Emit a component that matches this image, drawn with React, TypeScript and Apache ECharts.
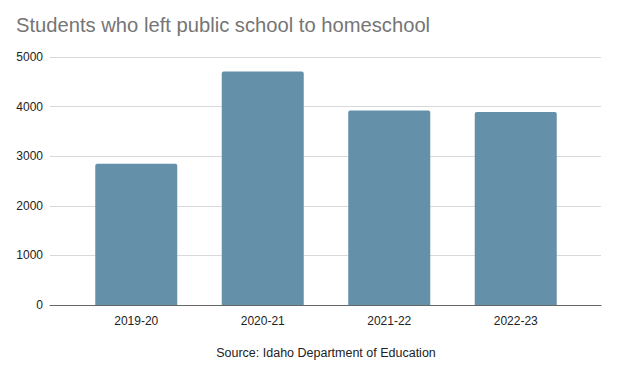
import React, { useEffect, useRef } from "react";
import * as echarts from "echarts";

const categories = ["2019-20", "2020-21", "2021-22", "2022-23"];
const students = [2850, 4710, 3920, 3890];
const yTicks = [0, 1000, 2000, 3000, 4000, 5000];
const titleText = "Students who left public school to homeschool";
const sourceText = "Source: Idaho Department of Education";

export default function App() {
  const ref = useRef<HTMLDivElement>(null);
  useEffect(() => {
    if (!ref.current) return;
    const chart = echarts.init(ref.current, undefined, { renderer: "svg" });
    const font = "Arial, 'Liberation Sans', sans-serif";
    chart.setOption({
      animation: false,
      backgroundColor: "#ffffff",
      title: {
        text: titleText,
        left: 16,
        top: 15,
        padding: 0,
        textStyle: { fontFamily: font, fontSize: 20.2, fontWeight: "normal", color: "#757575" },
      },
      graphic: [
        {
          type: "text",
          x: 326,
          y: 346,
          style: {
            text: sourceText,
            fontFamily: font,
            fontSize: 12.5,
            fill: "#222222",
            align: "center",
            verticalAlign: "top",
          },
        },
      ],
      grid: [
        { left: 50, right: 19, top: 57, bottom: 76 },
        { left: 73, right: 41, top: 57, bottom: 76 },
      ],
      xAxis: [
        {
          type: "category",
          gridIndex: 0,
          data: categories,
          axisLine: { show: true, lineStyle: { color: "#666666", width: 1 } },
          axisTick: { show: false },
          axisLabel: { show: false },
        },
        {
          type: "category",
          gridIndex: 1,
          data: categories,
          axisLine: { show: false },
          axisTick: { show: false },
          axisLabel: { margin: 10, fontFamily: font, fontSize: 12, color: "#222222" },
        },
      ],
      yAxis: [
        {
          type: "value",
          gridIndex: 0,
          min: yTicks[0],
          max: yTicks[yTicks.length - 1],
          interval: 1000,
          axisLine: { show: false },
          axisTick: { show: false },
          axisLabel: {
            margin: 7,
            fontFamily: font,
            fontSize: 12,
            color: "#222222",
            formatter: (v: number) => String(v),
          },
          splitLine: { lineStyle: { color: "#d9d9d9", width: 1 } },
        },
        {
          type: "value",
          gridIndex: 1,
          min: yTicks[0],
          max: yTicks[yTicks.length - 1],
          interval: 1000,
          axisLine: { show: false },
          axisTick: { show: false },
          axisLabel: { show: false },
          splitLine: { show: false },
        },
      ],
      series: [
        {
          type: "bar",
          xAxisIndex: 1,
          yAxisIndex: 1,
          data: students,
          barWidth: 82,
          itemStyle: { color: "#6590a9", borderRadius: [2, 2, 0, 0] },
          z: 1,
        },
      ],
    });
    return () => chart.dispose();
  }, []);
  return <div ref={ref} style={{ width: 620, height: 381, position: "absolute", left: 0, top: 0 }} />;
}
